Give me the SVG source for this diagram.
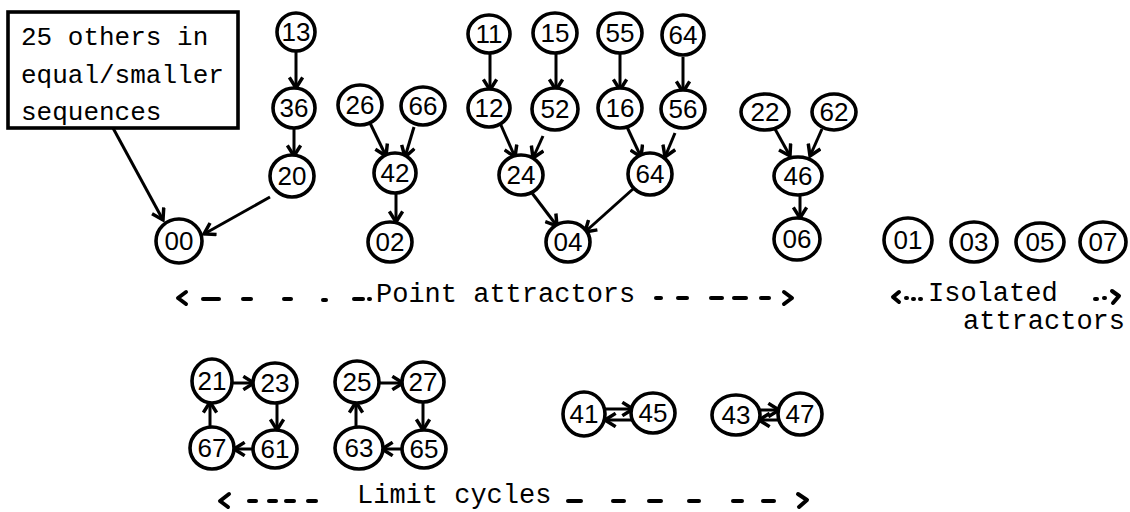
<svg xmlns="http://www.w3.org/2000/svg" width="1130" height="512" viewBox="0 0 1130 512">
<style>
.n ellipse{fill:#fff;stroke:#000;stroke-width:3.6}
.n text{font-family:"Liberation Sans",Arial,sans-serif;font-size:26px;text-anchor:middle;fill:#000}
.e line{stroke:#000;stroke-width:3;fill:none;marker-end:url(#a)}
.t{font-family:"Liberation Mono","Courier New",monospace;font-size:27px;fill:#000}
.bx{font-family:"Liberation Mono","Courier New",monospace;font-size:26px;fill:#000}
.d line{stroke:#000;stroke-width:4;stroke-linecap:round}
.d path{stroke:#000;stroke-width:4;fill:none;stroke-linecap:round;stroke-linejoin:round}
</style>
<defs>
<marker id="a" markerUnits="userSpaceOnUse" markerWidth="16" markerHeight="16" refX="10" refY="6" orient="auto" viewBox="0 0 12 12">
<path d="M2,1 L10,6 L2,11" fill="none" stroke="#000" stroke-width="2.6"/>
</marker>
</defs>
<rect width="1130" height="512" fill="#fff"/>

<g class="e" id="connectors">
<line x1="113" y1="128" x2="163" y2="220"/>
<line x1="270" y1="197" x2="204" y2="234"/>
<line x1="296" y1="52" x2="296" y2="88"/>
<line x1="294" y1="128" x2="294" y2="156"/>
<line x1="370" y1="123" x2="386" y2="156"/>
<line x1="414" y1="127" x2="405" y2="157"/>
<line x1="396" y1="194" x2="396" y2="222"/>
<line x1="490" y1="54" x2="490" y2="90"/>
<line x1="556" y1="54" x2="556" y2="90"/>
<line x1="620" y1="54" x2="620" y2="90"/>
<line x1="683" y1="57" x2="683" y2="92"/>
<line x1="500" y1="123" x2="515" y2="157"/>
<line x1="543" y1="136" x2="533" y2="158"/>
<line x1="627" y1="127" x2="641" y2="157"/>
<line x1="675" y1="133" x2="665" y2="157"/>
<line x1="532" y1="193" x2="557" y2="226"/>
<line x1="633" y1="189" x2="585" y2="232"/>
<line x1="775" y1="129" x2="790" y2="156"/>
<line x1="822" y1="129" x2="810" y2="156"/>
<line x1="800" y1="195" x2="800" y2="218"/>
<line x1="232" y1="383" x2="254" y2="383"/>
<line x1="277" y1="403" x2="277" y2="430"/>
<line x1="254" y1="449" x2="234" y2="449"/>
<line x1="210" y1="428" x2="210" y2="402"/>
<line x1="380" y1="383" x2="403" y2="383"/>
<line x1="423" y1="402" x2="423" y2="430"/>
<line x1="403" y1="449" x2="382" y2="449"/>
<line x1="356" y1="428" x2="356" y2="402"/>
<line x1="605" y1="409" x2="633" y2="409"/>
<line x1="633" y1="420" x2="605" y2="420"/>
<line x1="759" y1="410" x2="779" y2="410"/>
<line x1="779" y1="420" x2="759" y2="420"/>
</g>

<g id="box">
<rect x="8" y="12" width="230" height="116" fill="#fff" stroke="#000" stroke-width="3.6"/>
<text class="bx" x="21" y="45">25 others in</text>
<text class="bx" x="21" y="83">equal/smaller</text>
<text class="bx" x="21" y="120">sequences</text>
</g>

<g class="n" id="n13"><ellipse cx="296" cy="32" rx="19" ry="19"/><text x="296" y="41">13</text></g>
<g class="n" id="n36"><ellipse cx="294" cy="108" rx="21" ry="20"/><text x="294" y="117">36</text></g>
<g class="n" id="n20"><ellipse cx="292" cy="176" rx="22" ry="21"/><text x="292" y="185">20</text></g>
<g class="n" id="n00"><ellipse cx="179" cy="241" rx="23" ry="22"/><text x="179" y="250">00</text></g>
<g class="n" id="n26"><ellipse cx="360" cy="105" rx="22" ry="20"/><text x="360" y="114">26</text></g>
<g class="n" id="n66"><ellipse cx="423" cy="106" rx="22" ry="19"/><text x="423" y="115">66</text></g>
<g class="n" id="n42"><ellipse cx="395" cy="173" rx="21" ry="20"/><text x="395" y="182">42</text></g>
<g class="n" id="n02"><ellipse cx="390" cy="242" rx="22" ry="20"/><text x="390" y="251">02</text></g>
<g class="n" id="n11"><ellipse cx="489" cy="34" rx="21" ry="19"/><text x="489" y="43">11</text></g>
<g class="n" id="n15"><ellipse cx="555" cy="33" rx="22" ry="20"/><text x="555" y="42">15</text></g>
<g class="n" id="n55"><ellipse cx="620" cy="33" rx="22" ry="20"/><text x="620" y="42">55</text></g>
<g class="n" id="n64a"><ellipse cx="683" cy="35" rx="21" ry="20"/><text x="683" y="44">64</text></g>
<g class="n" id="n12"><ellipse cx="489" cy="108" rx="21" ry="19"/><text x="489" y="117">12</text></g>
<g class="n" id="n52"><ellipse cx="555" cy="109" rx="23" ry="21"/><text x="555" y="118">52</text></g>
<g class="n" id="n16"><ellipse cx="620" cy="108" rx="22" ry="20"/><text x="620" y="117">16</text></g>
<g class="n" id="n56"><ellipse cx="683" cy="109" rx="22" ry="19"/><text x="683" y="118">56</text></g>
<g class="n" id="n24"><ellipse cx="521" cy="175" rx="22" ry="20"/><text x="521" y="184">24</text></g>
<g class="n" id="n64b"><ellipse cx="650" cy="174" rx="22" ry="21"/><text x="650" y="183">64</text></g>
<g class="n" id="n04"><ellipse cx="568" cy="242" rx="22" ry="20"/><text x="568" y="251">04</text></g>
<g class="n" id="n22"><ellipse cx="765" cy="112" rx="24" ry="18"/><text x="765" y="121">22</text></g>
<g class="n" id="n62"><ellipse cx="834" cy="112" rx="22" ry="18"/><text x="834" y="121">62</text></g>
<g class="n" id="n46"><ellipse cx="798" cy="176" rx="24" ry="19"/><text x="798" y="185">46</text></g>
<g class="n" id="n06"><ellipse cx="797" cy="239" rx="23" ry="21"/><text x="797" y="248">06</text></g>
<g class="n" id="n01"><ellipse cx="908" cy="240" rx="24" ry="22"/><text x="908" y="249">01</text></g>
<g class="n" id="n03"><ellipse cx="974" cy="242" rx="23" ry="20"/><text x="974" y="251">03</text></g>
<g class="n" id="n05"><ellipse cx="1040" cy="242" rx="24" ry="19"/><text x="1040" y="251">05</text></g>
<g class="n" id="n07"><ellipse cx="1103" cy="242" rx="23" ry="20"/><text x="1103" y="251">07</text></g>
<g class="n" id="n21"><ellipse cx="212" cy="381" rx="20" ry="22"/><text x="212" y="390">21</text></g>
<g class="n" id="n23"><ellipse cx="275" cy="383" rx="22" ry="20"/><text x="275" y="392">23</text></g>
<g class="n" id="n67"><ellipse cx="212" cy="448" rx="22" ry="21"/><text x="212" y="457">67</text></g>
<g class="n" id="n61"><ellipse cx="275" cy="449" rx="22" ry="19"/><text x="275" y="458">61</text></g>
<g class="n" id="n25"><ellipse cx="357" cy="382" rx="22" ry="21"/><text x="357" y="391">25</text></g>
<g class="n" id="n27"><ellipse cx="423" cy="382" rx="21" ry="20"/><text x="423" y="391">27</text></g>
<g class="n" id="n63"><ellipse cx="359" cy="448" rx="24" ry="21"/><text x="359" y="457">63</text></g>
<g class="n" id="n65"><ellipse cx="424" cy="449" rx="22" ry="19"/><text x="424" y="458">65</text></g>
<g class="n" id="n41"><ellipse cx="584" cy="414" rx="21" ry="22"/><text x="584" y="423">41</text></g>
<g class="n" id="n45"><ellipse cx="653" cy="413" rx="22" ry="20"/><text x="653" y="422">45</text></g>
<g class="n" id="n43"><ellipse cx="736" cy="415" rx="24" ry="20"/><text x="736" y="424">43</text></g>
<g class="n" id="n47"><ellipse cx="800" cy="414" rx="22" ry="21"/><text x="800" y="423">47</text></g>

<g id="label-point" class="d">
<path d="M186,292 L178,298 L186,304"/>
<line x1="203" y1="299" x2="219" y2="299"/>
<line x1="243" y1="299" x2="251" y2="299"/>
<line x1="284" y1="299" x2="291" y2="299"/>
<line x1="323" y1="300" x2="326" y2="300"/>
<line x1="354" y1="299" x2="363" y2="299"/>
<line x1="369" y1="299" x2="370" y2="299"/>
<text class="t" x="376" y="302">Point attractors</text>
<line x1="656" y1="298" x2="661" y2="298"/>
<line x1="678" y1="298" x2="687" y2="298"/>
<line x1="711" y1="298" x2="722" y2="298"/>
<line x1="734" y1="298" x2="746" y2="298"/>
<line x1="761" y1="298" x2="769" y2="298"/>
<path d="M784,292 L792,298 L784,304"/>
</g>

<g id="label-isolated" class="d">
<path d="M899,292 L893,297 L899,302"/>
<line x1="906" y1="298" x2="907" y2="298"/>
<line x1="913" y1="299" x2="914" y2="299"/>
<line x1="920" y1="299" x2="921" y2="299"/>
<text class="t" x="928" y="301">Isolated</text>
<line x1="1095" y1="299" x2="1097" y2="299"/>
<line x1="1104" y1="298" x2="1105" y2="298"/>
<path d="M1112,291 L1119,296 L1113,303"/>
<text class="t" x="963" y="329">attractors</text>
</g>

<g id="label-limit" class="d">
<path d="M229,494 L220,501 L228,507"/>
<line x1="249" y1="501" x2="256" y2="501"/>
<line x1="269" y1="501" x2="276" y2="501"/>
<line x1="286" y1="501" x2="294" y2="501"/>
<line x1="308" y1="501" x2="316" y2="501"/>
<text class="t" x="357" y="503">Limit cycles</text>
<line x1="568" y1="501" x2="581" y2="501"/>
<line x1="613" y1="501" x2="624" y2="501"/>
<line x1="649" y1="501" x2="661" y2="501"/>
<line x1="689" y1="501" x2="699" y2="501"/>
<line x1="733" y1="501" x2="742" y2="501"/>
<line x1="763" y1="501" x2="774" y2="501"/>
<path d="M798,494 L807,500 L799,507"/>
</g>
</svg>
